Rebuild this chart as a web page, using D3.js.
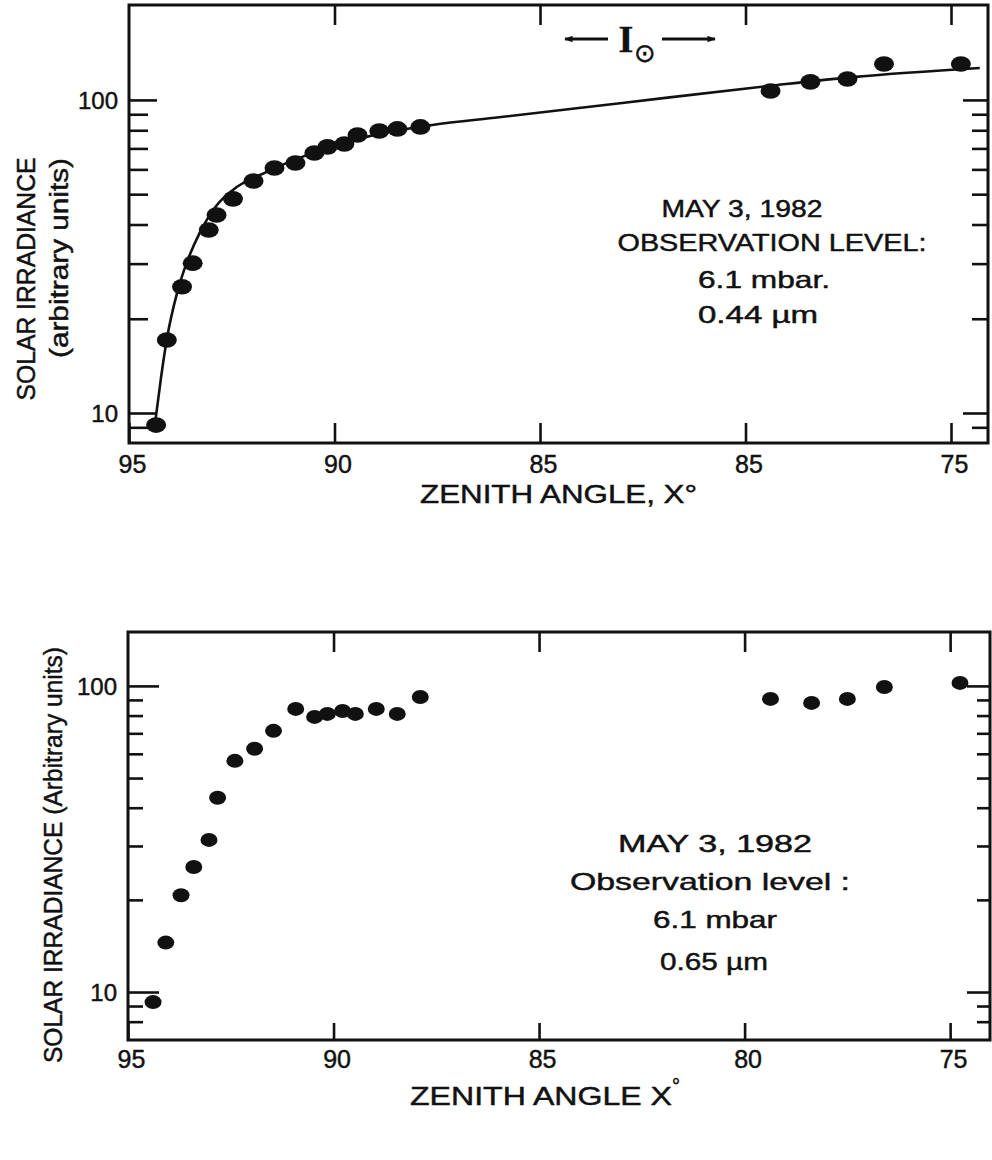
<!DOCTYPE html>
<html>
<head>
<meta charset="utf-8">
<script src="https://cdn.jsdelivr.net/npm/d3@7"></script>
<style>
  html, body { margin: 0; padding: 0; background: #fff; }
  svg { display: block; }
  text { font-family: "Liberation Sans", Arial, sans-serif; fill: #111; stroke: #111; stroke-width: 0.45px; }
</style>
</head>
<body>
<svg id="chart" width="992" height="1160"></svg>
<script>
// ---------- DATA ----------
// Top panel (0.44 µm) measured points
const topAngle = [94.34, 94.08, 93.71, 93.45, 93.06, 92.87, 92.47, 91.97, 91.46, 90.95, 90.49, 90.17, 89.76, 89.44, 88.91, 88.47, 87.91, 79.39, 78.42, 77.52, 76.63, 74.76];
const topIrr   = [9.15, 17.1, 25.3, 30.1, 38.4, 42.9, 48.3, 55.1, 60.6, 62.9, 67.7, 70.8, 72.3, 77.3, 79.6, 80.8, 82.0, 106.8, 114.2, 116.7, 130.3, 130.3];
// Top panel fitted curve
const curveAngle = [94.36, 94.22, 94.08, 93.83, 93.6, 93.28, 92.87, 92.47, 91.65, 90.85, 90.05, 89.22, 87.62, 86.0, 83.0, 79.44, 77.33, 74.3];
const curveIrr   = [9.4, 13.0, 17.2, 24.2, 30.1, 37.6, 46.0, 51.6, 58.9, 65.3, 70.8, 76.2, 83.2, 88.0, 97.8, 110.8, 118.5, 126.5];
// Bottom panel (0.65 µm) measured points
const botAngle = [94.39, 94.08, 93.71, 93.40, 93.03, 92.82, 92.40, 91.92, 91.46, 90.92, 90.46, 90.15, 89.78, 89.47, 88.96, 88.45, 87.89, 79.37, 78.37, 77.50, 76.60, 74.76];
const botIrr   = [9.27, 14.5, 20.7, 25.6, 31.4, 43.1, 56.9, 62.3, 71.3, 84.1, 79.2, 81.0, 82.8, 81.0, 84.1, 81.0, 92.0, 90.7, 88.0, 90.7, 99.2, 102.3];

// Tick values and labels
const xTickValues = [95, 90, 85, 80, 75];
const xTickLabelsTop = ["95", "90", "85", "85", "75"];
const xTickLabelsBot = ["95", "90", "85", "80", "75"];
const yMajorTicks = [10, 100];
const yMinorTicksTop = [9, 20, 30, 40, 50, 60, 70, 80, 90];
const yMinorTicksBot = [8, 9, 20, 30, 40, 50, 60, 70, 80, 90];

const svg = d3.select("#chart");

function panel(cfg) {
  const x = d3.scaleLinear().domain(cfg.xDomain).range([cfg.left, cfg.right]);
  const y = d3.scaleLog().domain(cfg.yDomain).range([cfg.bottom, cfg.top]);
  const g = svg.append("g");
  const sw = 3;

  g.append("rect")
    .attr("x", cfg.left).attr("y", cfg.top)
    .attr("width", cfg.right - cfg.left).attr("height", cfg.bottom - cfg.top)
    .attr("fill", "none").attr("stroke", "#111").attr("stroke-width", sw);

  const styleAxis = sel => {
    sel.select(".domain").remove();
    sel.selectAll(".tick line").attr("stroke", "#111").attr("stroke-width", 2.6);
    sel.selectAll(".tick text").attr("fill", "#111").style("font-size", "25px").style("font-family", '"Liberation Sans", Arial, sans-serif');
  };

  const xb = g.append("g").attr("transform", `translate(0,${cfg.bottom})`)
    .call(d3.axisBottom(x).tickValues(xTickValues).tickSize(-cfg.xTickBot).tickPadding(0)
      .tickFormat((d, i) => cfg.xLabels[i]));
  styleAxis(xb);
  xb.selectAll(".tick text").attr("dy", null).attr("y", cfg.xLabelBaseline - cfg.bottom).attr("dx", 3);
  const xt = g.append("g").attr("transform", `translate(0,${cfg.top})`)
    .call(d3.axisTop(x).tickValues(xTickValues.slice(1)).tickSize(-cfg.xTickTop).tickFormat(""));
  styleAxis(xt);

  const yl = g.append("g").attr("transform", `translate(${cfg.left},0)`)
    .call(d3.axisLeft(y).tickValues(yMajorTicks).tickSize(-cfg.yMajL).tickPadding(11).tickFormat(d3.format("d")));
  styleAxis(yl);
  yl.selectAll(".tick text").style("font-size", "24px").attr("dy", "0.36em");
  const ylm = g.append("g").attr("transform", `translate(${cfg.left},0)`)
    .call(d3.axisLeft(y).tickValues(cfg.yMinor).tickSize(-cfg.yMinL).tickFormat(""));
  styleAxis(ylm);
  const yr = g.append("g").attr("transform", `translate(${cfg.right},0)`)
    .call(d3.axisRight(y).tickValues(yMajorTicks).tickSize(-cfg.yMajR).tickFormat(""));
  styleAxis(yr);
  const yrm = g.append("g").attr("transform", `translate(${cfg.right},0)`)
    .call(d3.axisRight(y).tickValues(cfg.yMinor).tickSize(-cfg.yMinR).tickFormat(""));
  styleAxis(yrm);

  return { x, y, g };
}

// ---------- TOP PANEL ----------
const P1 = panel({
  xDomain: [95, 74.1], yDomain: [8.02, 201],
  left: 129, right: 988, top: 5, bottom: 443,
  xTickBot: 20, xTickTop: 20, yMajL: 28, yMinL: 19, yMajR: 25, yMinR: 16,
  xLabels: xTickLabelsTop, xLabelBaseline: 473, yMinor: yMinorTicksTop
});

const line = d3.line().x(d => P1.x(d[0])).y(d => P1.y(d[1])).curve(d3.curveMonotoneX);
P1.g.append("path")
  .datum(curveAngle.map((a, i) => [a, curveIrr[i]]))
  .attr("d", line).attr("fill", "none").attr("stroke", "#111").attr("stroke-width", 2.6);

P1.g.selectAll("ellipse.pt").data(topAngle.map((a, i) => [a, topIrr[i]])).enter()
  .append("ellipse").attr("class", "pt")
  .attr("cx", d => P1.x(d[0])).attr("cy", d => P1.y(d[1]))
  .attr("rx", 10).attr("ry", 7.8).attr("fill", "#111");

svg.append("text").attr("transform", "translate(35,279) rotate(-90)")
  .attr("text-anchor", "middle").style("font-size", "25px")
  .attr("textLength", 243).attr("lengthAdjust", "spacingAndGlyphs").text("SOLAR IRRADIANCE");
svg.append("text").attr("transform", "translate(68,258) rotate(-90)")
  .attr("text-anchor", "middle").style("font-size", "25px")
  .attr("textLength", 200).attr("lengthAdjust", "spacingAndGlyphs").text("(arbitrary units)");
svg.append("text").attr("x", 420).attr("y", 503)
  .style("font-size", "25px").attr("textLength", 277).attr("lengthAdjust", "spacingAndGlyphs")
  .text("ZENITH ANGLE, X°");

const ann1 = [
  { t: "MAY 3, 1982", x: 742, y: 217, w: 161 },
  { t: "OBSERVATION LEVEL:", x: 772, y: 251, w: 309 },
  { t: "6.1 mbar.", x: 764, y: 288, w: 132 },
  { t: "0.44 µm", x: 758, y: 323, w: 120 }
];
svg.selectAll("text.ann1").data(ann1).enter().append("text").attr("class", "ann1")
  .attr("x", d => d.x).attr("y", d => d.y).attr("text-anchor", "middle")
  .style("font-size", "24px").attr("textLength", d => d.w).attr("lengthAdjust", "spacingAndGlyphs")
  .text(d => d.t);

const defs = svg.append("defs");
defs.append("marker").attr("id", "ah").attr("viewBox", "0 0 10 10").attr("refX", 9).attr("refY", 5)
  .attr("markerWidth", 4.5).attr("markerHeight", 3).attr("orient", "auto-start-reverse")
  .append("path").attr("d", "M0,1 L10,5 L0,9 z").attr("fill", "#111");
svg.append("line").attr("x1", 608).attr("y1", 39).attr("x2", 565).attr("y2", 39)
  .attr("stroke", "#111").attr("stroke-width", 2.8).attr("marker-end", "url(#ah)");
svg.append("line").attr("x1", 662).attr("y1", 39).attr("x2", 715).attr("y2", 39)
  .attr("stroke", "#111").attr("stroke-width", 2.8).attr("marker-end", "url(#ah)");
svg.append("text").attr("x", 626).attr("y", 52).attr("text-anchor", "middle")
  .style("font-family", '"Liberation Serif", serif').style("font-weight", "bold").style("font-size", "38px").text("I");
svg.append("text").attr("x", 645).attr("y", 62).attr("text-anchor", "middle")
  .style("font-family", '"DejaVu Sans", sans-serif').style("font-size", "26px").text("⊙");

// ---------- BOTTOM PANEL ----------
const P2 = panel({
  xDomain: [95, 74.03], yDomain: [6.97, 150],
  left: 128, right: 990, top: 632, bottom: 1040,
  xTickBot: 17, xTickTop: 20, yMajL: 31, yMinL: 15, yMajR: 23, yMinR: 13,
  xLabels: xTickLabelsBot, xLabelBaseline: 1068, yMinor: yMinorTicksBot
});

P2.g.selectAll("ellipse.pt").data(botAngle.map((a, i) => [a, botIrr[i]])).enter()
  .append("ellipse").attr("class", "pt")
  .attr("cx", d => P2.x(d[0])).attr("cy", d => P2.y(d[1]))
  .attr("rx", 8.5).attr("ry", 7).attr("fill", "#111");

svg.append("text").attr("transform", "translate(62,855) rotate(-90)")
  .attr("text-anchor", "middle").style("font-size", "25px")
  .attr("textLength", 416).attr("lengthAdjust", "spacingAndGlyphs").text("SOLAR IRRADIANCE (Arbitrary units)");
const xl2 = svg.append("text").attr("x", 410).attr("y", 1105)
  .style("font-size", "25px");
xl2.append("tspan").attr("textLength", 262).attr("lengthAdjust", "spacingAndGlyphs").text("ZENITH ANGLE X");
xl2.append("tspan").attr("dy", -12).style("font-size", "20px").text("°");

const ann2 = [
  { t: "MAY 3, 1982", x: 715, y: 852, w: 194 },
  { t: "Observation level :", x: 710, y: 890, w: 280 },
  { t: "6.1 mbar", x: 715, y: 928, w: 124 },
  { t: "0.65 µm", x: 714, y: 970, w: 108 }
];
svg.selectAll("text.ann2").data(ann2).enter().append("text").attr("class", "ann2")
  .attr("x", d => d.x).attr("y", d => d.y).attr("text-anchor", "middle")
  .style("font-size", "24px").attr("textLength", d => d.w).attr("lengthAdjust", "spacingAndGlyphs")
  .text(d => d.t);
</script>
</body>
</html>
